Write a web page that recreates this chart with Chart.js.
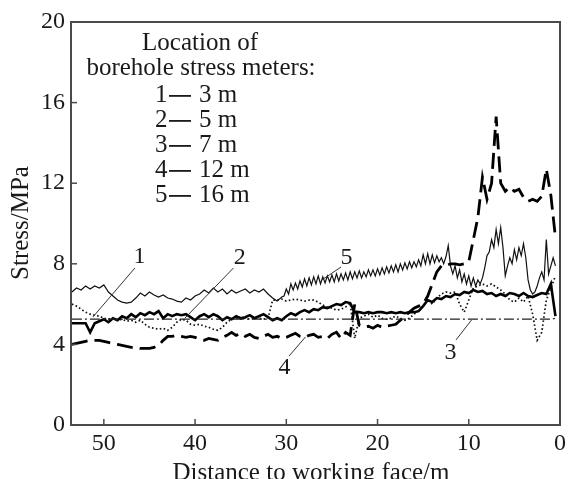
<!DOCTYPE html>
<html>
<head>
<meta charset="utf-8">
<script src="https://cdn.jsdelivr.net/npm/chart.js@4.4.1/dist/chart.umd.min.js"></script>
<style>
html,body{margin:0;padding:0;background:#fff;}
#wrap{width:570px;height:479px;position:relative;}
</style>
</head>
<body>
<div id="wrap"><canvas id="c" width="570" height="479"></canvas></div>
<script>
// Distance to working face (m), shared by series 1-4
const distance = [53.5,53,52.5,52,51.5,51,50.5,50,49.5,49,
  48.5,48,47.5,47,46.5,46,45.5,45,44.5,44,
  43.5,43,42.5,42,41.5,41,40.5,40,39.5,39,
  38.5,38,37.5,37,36.5,36,35.5,35,34.5,34,
  33.5,33,32.5,32,31.5,31,30.5,30,29.5,29,
  28.5,28,27.5,27,26.5,26,25.5,25,24.5,24,
  23.5,23,22.5,22,21.5,21,20.5,20,19.5,19,
  18.5,18,17.5,17,16.5,16,15.5,15,14.5,14,
  13.5,13,12.5,12,11.5,11,10.5,10,9.5,9,
  8.5,8,7.5,7,6.5,6,5.5,5,4.5,4,
  3.5,3,2.5,2,1.5,1,0.5];

// 1 — 3 m (thick solid)
const stress3m = [5.05,5.05,5.05,5.05,4.6,5.05,5.15,5.25,5.1,5.3,
  5.2,5.4,5.3,5.5,5.35,5.55,5.45,5.6,5.5,5.65,
  5.3,5.5,5.4,5.5,5.45,5.5,5.35,5.2,5.4,5.5,
  5.35,5.5,5.4,5.2,5.35,5.25,5.4,5.3,5.35,5.45,
  5.3,5.4,5.5,5.35,5.2,5.3,5.2,5.4,5.55,5.45,
  5.6,5.7,5.6,5.75,5.7,5.85,5.8,5.9,6.0,5.95,
  6.1,6.05,5.6,5.6,5.55,5.6,5.55,5.6,5.6,5.55,
  5.6,5.55,5.6,5.55,5.6,5.6,5.65,5.9,6.2,6.1,
  6.3,6.25,6.4,6.35,6.5,6.45,6.6,6.55,6.7,6.6,
  6.65,6.5,6.55,6.4,6.5,6.4,6.55,6.5,6.4,6.55,
  6.4,6.35,6.45,6.55,6.5,7.0,5.4];

// 2 — 5 m (dotted)
const stress5m = [6.0,5.9,5.75,5.6,5.5,5.45,5.4,5.3,5.25,5.3,
  5.2,5.25,5.15,5.2,5.1,5.2,5.0,4.85,4.8,4.75,
  4.8,4.7,4.85,5.1,5.25,5.2,5.0,4.95,5.0,4.9,
  4.85,4.75,4.7,4.85,5.1,5.25,5.3,5.25,5.3,5.25,
  5.3,5.3,5.25,5.3,6.2,6.2,6.25,6.15,6.2,6.25,
  6.2,6.15,6.2,6.2,6.1,5.95,5.85,5.8,5.7,5.75,
  5.85,6.05,4.3,5.3,5.4,5.5,5.35,5.45,5.3,5.25,
  5.3,5.4,5.3,5.2,5.3,5.5,5.7,5.9,6.2,6.0,
  6.3,6.5,6.6,6.55,6.6,6.0,5.6,6.2,6.8,6.9,
  7.0,6.9,7.0,6.85,6.7,6.5,6.2,6.1,6.3,6.1,
  6.4,5.5,4.2,4.6,6.2,6.8,7.4];

// 3 — 7 m (dash-dot)
const stress7m = [5.25,5.25,5.25,5.25,5.25,5.25,5.25,5.25,5.25,5.25,
  5.25,5.25,5.25,5.25,5.25,5.25,5.25,5.25,5.25,5.25,
  5.25,5.25,5.25,5.25,5.25,5.25,5.25,5.25,5.25,5.25,
  5.25,5.25,5.25,5.25,5.25,5.25,5.25,5.25,5.25,5.25,
  5.25,5.25,5.25,5.25,5.25,5.25,5.25,5.25,5.25,5.25,
  5.25,5.25,5.25,5.25,5.25,5.25,5.25,5.25,5.25,5.25,
  5.25,5.25,5.25,5.25,5.25,5.25,5.25,5.25,5.25,5.25,
  5.25,5.25,5.25,5.25,5.25,5.25,5.25,5.25,5.25,5.25,
  5.25,5.25,5.25,5.25,5.25,5.25,5.25,5.25,5.25,5.25,
  5.25,5.25,5.25,5.25,5.25,5.25,5.25,5.25,5.25,5.25,
  5.25,5.25,5.25,5.25,5.25,5.25,5.3];

// 4 — 12 m (thick dashed)
const stress12m = [4.0,4.05,4.1,4.15,4.2,4.2,4.2,4.15,4.1,4.05,
  4.0,3.95,3.9,3.85,3.85,3.8,3.8,3.8,3.85,3.95,
  4.2,4.4,4.4,4.45,4.4,4.35,4.4,4.35,4.25,4.2,
  4.3,4.25,4.2,4.35,4.45,4.6,4.45,4.55,4.4,4.5,
  4.35,4.3,4.4,4.5,4.35,4.4,4.3,4.35,4.45,4.55,
  4.4,4.35,4.45,4.5,4.35,4.4,4.3,4.5,4.6,4.3,
  4.6,4.45,6.0,4.95,4.85,4.9,4.8,4.95,4.85,4.9,
  4.95,5.0,5.2,5.4,5.6,5.8,5.9,6.0,6.4,7.0,
  7.6,7.9,7.9,8.0,8.0,7.95,8.0,8.1,9.2,10.3,
  12.3,11.2,12.0,15.3,12.0,11.6,11.8,11.6,11.7,11.3,
  11.1,11.2,11.1,11.35,12.7,11.4,9.3];

// 5 — 16 m (thin solid), sampled more finely
const distance16 = [53.5,53,52.5,52,51.5,51,50.5,50,49.5,49,
  48.5,48,47.5,47,46.5,46,45.5,45,44.5,44,
  43.5,43,42.5,42,41.5,41,40.5,40,39.5,39,
  38.5,38,37.5,37,36.5,36,35.5,35,34.5,34,
  33.5,33,32.5,32,31.5,31,30.5,
  30.25,30,29.75,29.5,29.25,29,28.75,28.5,
  28.25,28,27.75,27.5,27.25,27,26.75,26.5,
  26.25,26,25.75,25.5,25.25,25,24.75,24.5,
  24.25,24,23.75,23.5,23.25,23,22.75,22.5,
  22.25,22,21.75,21.5,21.25,21,20.75,20.5,
  20.25,20,19.75,19.5,19.25,19,18.75,18.5,
  18.25,18,17.75,17.5,17.25,17,16.75,16.5,
  16.25,16,15.75,15.5,15.25,15,14.75,14.5,
  14.25,14,13.75,13.5,13.25,13,12.75,12.5,
  12.25,12,11.75,11.5,11.25,11,10.75,10.5,
  10.25,10,9.75,9.5,9.25,9,8.75,8.5,
  8.25,8,7.75,7.5,7.25,7,6.75,6.5,
  6.25,6,5.75,5.5,5.25,5,4.75,4.5,
  4.25,4,3.75,3.5,3.25,3,2.75,2.5,
  2.25,2,1.75,1.5,1.25,1,0.75,0.5];
const stress16m = [6.6,6.8,6.7,6.9,6.75,6.9,6.8,6.95,6.6,6.4,
  6.2,6.1,6.05,6.1,6.3,6.55,6.4,6.6,6.45,6.35,
  6.45,6.3,6.25,6.15,6.1,6.3,6.2,6.4,6.5,6.7,
  6.55,6.8,6.6,6.75,6.5,6.7,6.55,6.65,6.75,6.55,
  6.7,6.6,6.75,6.5,6.3,6.15,6.35,
  6.4,6.75,6.5,7.0,6.7,7.05,6.75,7.15,
  6.85,7.25,6.9,7.3,6.95,7.35,7.0,7.4,
  7.0,7.35,7.05,7.4,7.1,7.45,7.1,7.5,
  7.15,7.5,7.2,7.55,7.2,7.6,7.25,7.6,
  7.3,7.65,7.3,7.6,7.35,7.7,7.4,7.7,
  7.4,7.75,7.45,7.8,7.5,7.85,7.55,7.9,
  7.6,7.95,7.6,8.0,7.7,8.05,7.75,8.1,
  7.8,8.1,7.85,8.2,7.9,8.45,8.0,8.5,
  8.0,8.45,8.05,8.4,8.1,8.3,8.0,8.35,
  8.9,7.9,7.5,7.9,7.3,7.7,7.1,7.5,
  7.0,7.4,6.9,7.3,6.9,7.2,7.0,7.3,
  7.8,8.4,8.6,9.2,8.8,9.7,9.0,9.8,
  8.8,7.4,7.9,8.3,8.0,8.7,8.2,8.8,
  8.4,9.0,8.3,7.2,6.7,6.5,6.6,6.9,
  7.3,7.6,7.2,9.2,7.5,7.9,8.3,7.9];

const xTickValues = [50,40,30,20,10,0];
const yTickValues = [0,4,8,12,16,20];
const legendNumbers = ['1','2','3','4','5'];
const legendLabels = ['3 m','5 m','7 m','12 m','16 m'];
// curve labels: [text, labelX, labelY, leaderFromX, leaderFromY, leaderToX, leaderToY] in data units
const curveLabels = [
  ['1', 46.1, 8.34, 46.6, 7.79, 51.2, 5.36],
  ['2', 35.1, 8.29, 35.8, 7.79, 41.1, 5.31],
  ['5', 23.4, 8.29, 24.0, 7.84, 26.1, 7.2],
  ['4', 30.2, 2.83, 29.7, 3.42, 27.9, 4.37],
  ['3', 12.0, 3.57, 11.4, 4.22, 9.7, 5.21]
];

const FONT = 'Liberation Serif';
const toXY = (xs, arr) => xs.map((d, i) => ({x: d, y: arr[i]}));

const overlay = {
  id: 'overlay',
  afterDraw(chart) {
    const {ctx, chartArea: a, scales: {x, y}} = chart;
    ctx.save();
    ctx.strokeStyle = '#4a4a4a';
    ctx.lineWidth = 2;
    ctx.strokeRect(a.left, a.top, a.right - a.left, a.bottom - a.top);
    ctx.lineWidth = 1.5;
    y.ticks.forEach(t => {
      const py = y.getPixelForValue(t.value);
      ctx.beginPath(); ctx.moveTo(a.left, py); ctx.lineTo(a.left + 6, py); ctx.stroke();
    });
    x.ticks.forEach(t => {
      const px = x.getPixelForValue(t.value);
      ctx.beginPath(); ctx.moveTo(px, a.bottom); ctx.lineTo(px, a.bottom - 6); ctx.stroke();
    });
    ctx.fillStyle = '#1a1a1a';
    ctx.strokeStyle = '#333';
    ctx.lineWidth = 1;
    ctx.font = '24px "' + FONT + '"';
    ctx.textAlign = 'center';
    ctx.textBaseline = 'middle';
    curveLabels.forEach(([t, lx, ly, fx, fy, tx, ty]) => {
      ctx.fillText(t, x.getPixelForValue(lx), y.getPixelForValue(ly));
      ctx.beginPath();
      ctx.moveTo(x.getPixelForValue(fx), y.getPixelForValue(fy));
      ctx.lineTo(x.getPixelForValue(tx), y.getPixelForValue(ty));
      ctx.stroke();
    });
    ctx.font = '25px "' + FONT + '"';
    ctx.textBaseline = 'alphabetic';
    ctx.textAlign = 'center';
    ctx.fillText('Location of', 200, 50);
    ctx.fillText('borehole stress meters:', 201, 75);
    legendNumbers.forEach((n, i) => {
      const base = 102 + i * 25;
      ctx.textAlign = 'left';
      ctx.fillText(n, 155, base);
      ctx.fillRect(169, base - 7, 22, 1.8);
      ctx.fillText(legendLabels[i], 199, base);
    });
    ctx.textAlign = 'center';
    ctx.fillText('Distance to working face/m', 311, 480);
    ctx.translate(21, 223);
    ctx.rotate(-Math.PI / 2);
    ctx.textBaseline = 'middle';
    ctx.fillText('Stress/MPa', 0, 0);
    ctx.restore();
  }
};

new Chart(document.getElementById('c'), {
  type: 'line',
  data: {
    datasets: [
      {label: '3 — 7 m', data: toXY(distance, stress7m), borderColor: '#222', borderWidth: 1.3, borderDash: [10, 3, 2, 3]},
      {label: '2 — 5 m', data: toXY(distance, stress5m), borderColor: '#111', borderWidth: 1.7, borderDash: [1.6, 2.4]},
      {label: '4 — 12 m', data: toXY(distance, stress12m), borderColor: '#000', borderWidth: 2.8, borderDash: [16, 7]},
      {label: '5 — 16 m', data: toXY(distance16, stress16m), borderColor: '#111', borderWidth: 1.2},
      {label: '1 — 3 m', data: toXY(distance, stress3m), borderColor: '#000', borderWidth: 2.6}
    ]
  },
  options: {
    responsive: false,
    animation: false,
    devicePixelRatio: 1,
    layout: {padding: {top: 22, right: 7, left: 0, bottom: 0}},
    elements: {point: {radius: 0}, line: {tension: 0, fill: false, borderCapStyle: 'butt', borderJoinStyle: 'miter'}},
    plugins: {legend: {display: false}, tooltip: {enabled: false}},
    scales: {
      x: {
        type: 'linear', reverse: true, min: 0, max: 53.6,
        afterBuildTicks: s => { s.ticks = xTickValues.map(v => ({value: v})); },
        afterFit: s => { s.height = 54; },
        grid: {display: false, drawTicks: false},
        border: {display: false},
        ticks: {font: {family: FONT, size: 24}, color: '#1a1a1a', padding: 4, maxRotation: 0, autoSkip: false}
      },
      y: {
        min: 0, max: 20,
        afterBuildTicks: s => { s.ticks = yTickValues.map(v => ({value: v})); },
        afterFit: s => { s.width = 71; },
        grid: {display: false, drawTicks: false},
        border: {display: false},
        ticks: {font: {family: FONT, size: 24}, color: '#1a1a1a', padding: 6}
      }
    }
  },
  plugins: [overlay]
});
</script>
</body>
</html>
